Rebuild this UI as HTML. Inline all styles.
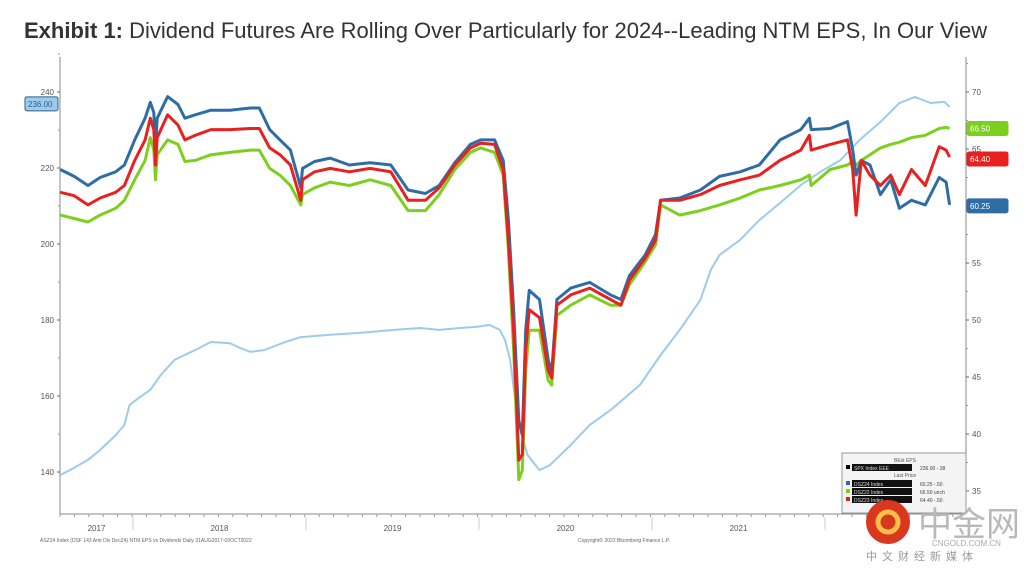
<!DOCTYPE html>
<html><head><meta charset="utf-8"><style>
body{margin:0;background:#fff;width:1024px;height:575px;overflow:hidden;font-family:"Liberation Sans","Noto Sans CJK SC",sans-serif}
</style></head><body>
<svg width="1024" height="575" xmlns="http://www.w3.org/2000/svg">
<text x="24" y="38" font-size="22" fill="#333"><tspan font-weight="bold">Exhibit 1:</tspan> Dividend Futures Are Rolling Over Particularly for 2024--Leading NTM EPS, In Our View</text>
<g id="axes"></g>
<g id="lines"></g>
<g id="labels"></g>
<g>
<rect x="842" y="453" width="124" height="60" fill="#f4f4f4" stroke="#999"/>
<text x="905" y="462" font-size="5" fill="#555" text-anchor="middle">BEst EPS</text>
<rect x="846" y="465" width="4" height="4" fill="#000"/><rect x="852" y="464" width="60" height="7" fill="#111"/><text x="854" y="470" font-size="5" fill="#ddd">SPX Index EEE</text><text x="920" y="470" font-size="5" fill="#444">236.00  -.38</text>
<text x="905" y="477" font-size="5" fill="#555" text-anchor="middle">Last Price</text>
<rect x="846" y="481" width="4" height="4" fill="#2e6da4"/><rect x="852" y="480" width="60" height="7" fill="#111"/><text x="854" y="486" font-size="5" fill="#ddd">DSZ24 Index</text><text x="920" y="486" font-size="5" fill="#444">60.25  -.50</text>
<rect x="846" y="489" width="4" height="4" fill="#7dcf1e"/><rect x="852" y="488" width="60" height="7" fill="#111"/><text x="854" y="494" font-size="5" fill="#ddd">DSZ22 Index</text><text x="920" y="494" font-size="5" fill="#444">66.50  unch</text>
<rect x="846" y="497" width="4" height="4" fill="#e8201f"/><rect x="852" y="496" width="60" height="7" fill="#111"/><text x="854" y="502" font-size="5" fill="#ddd">DSZ23 Index</text><text x="920" y="502" font-size="5" fill="#444">64.40  -.50</text>
</g>
<text x="40" y="542" font-size="5" fill="#666">ASZ24 Index (DSF 143 Amt Div  DecZ4) NTM EPS vs Dividends  Daily 31AUG2017-03OCT2022</text>
<text x="578" y="542" font-size="5" fill="#666">Copyright© 2022 Bloomberg Finance L.P.</text>
<g>
<circle cx="888" cy="522" r="22" fill="#d9381e"/><circle cx="888" cy="522" r="10" fill="none" stroke="#f7c04a" stroke-width="5"/>
<text x="918" y="536" font-size="34" fill="#b9b9b9" font-family="'Noto Sans CJK SC',sans-serif">中金网</text>
<text x="932" y="546" font-size="8" fill="#aaa">CNGOLD.COM.CN</text>
<text x="866" y="560" font-size="11" fill="#999" letter-spacing="5" font-family="'Noto Sans CJK SC',sans-serif">中文财经新媒体</text>
</g>
</svg>
<script>
const dates=[2017.58,2017.66,2017.74,2017.81,2017.90,2017.95,2018.01,2018.07,2018.10,2018.12,2018.13,2018.14,2018.20,2018.26,2018.30,2018.36,2018.45,2018.56,2018.68,2018.73,2018.79,2018.85,2018.91,2018.97,2018.98,2019.05,2019.14,2019.25,2019.37,2019.49,2019.59,2019.69,2019.77,2019.86,2019.95,2020.01,2020.09,2020.14,2020.17,2020.20,2020.23,2020.25,2020.27,2020.29,2020.35,2020.40,2020.42,2020.45,2020.53,2020.64,2020.76,2020.82,2020.87,2020.96,2021.02,2021.05,2021.16,2021.28,2021.39,2021.51,2021.62,2021.74,2021.86,2021.91,2021.92,2022.03,2022.13,2022.16,2022.18,2022.21,2022.26,2022.32,2022.38,2022.43,2022.50,2022.58,2022.66,2022.70,2022.72];
const dsz24=[63.2,62.6,61.8,62.5,63.0,63.6,65.8,67.7,69.1,68.2,65.1,67.7,69.6,68.9,67.7,68.0,68.4,68.4,68.6,68.6,66.7,65.8,64.9,61.6,63.3,63.9,64.2,63.6,63.8,63.6,61.4,61.1,61.8,63.8,65.4,65.8,65.8,64.0,58.8,50.9,41.2,39.9,49.1,52.6,51.8,46.5,45.4,51.8,52.8,53.3,52.2,51.8,53.9,55.7,57.5,60.5,60.7,61.4,62.6,63.0,63.6,65.8,66.7,67.7,66.7,66.8,67.4,64.9,62.7,64.0,63.6,61.0,62.3,59.8,60.5,60.1,62.5,62.1,60.1];
const dsz23=[61.2,60.9,60.1,60.7,61.2,61.8,64.0,65.8,67.7,66.7,63.6,66.0,68.0,67.1,65.8,66.2,66.7,66.7,66.8,66.8,65.1,64.5,63.6,60.5,62.3,63.0,63.3,63.0,63.3,63.0,60.5,60.5,61.6,63.6,65.1,65.5,65.4,63.2,57.0,49.1,37.7,38.2,47.4,50.9,50.2,45.6,44.9,51.3,52.2,52.8,51.8,51.3,53.5,55.4,57.0,60.5,60.5,61.0,61.8,62.3,62.7,64.0,64.9,66.2,64.9,65.4,65.8,63.2,59.2,64.0,62.7,61.8,62.7,61.0,63.2,61.8,65.2,64.9,64.3];
const dsz22=[59.2,58.9,58.6,59.2,59.8,60.5,62.3,64.0,66.0,64.9,62.3,64.5,65.8,65.4,63.9,64.0,64.5,64.7,64.9,64.9,63.3,62.7,61.8,60.1,61.0,61.6,62.1,61.8,62.3,61.8,59.6,59.6,61.0,63.2,64.7,65.1,64.7,62.7,56.1,47.4,36.0,36.8,45.6,49.1,49.1,44.7,44.3,50.4,51.3,52.2,51.3,51.3,53.1,55.1,56.6,60.1,59.2,59.6,60.1,60.7,61.4,61.8,62.3,62.7,61.8,63.2,63.6,63.9,63.6,64.0,64.5,65.1,65.4,65.6,66.0,66.2,66.8,66.9,66.8];
const epsDates=[2017.58,2017.66,2017.74,2017.81,2017.90,2017.95,2017.98,2018.04,2018.10,2018.16,2018.24,2018.36,2018.45,2018.56,2018.62,2018.68,2018.76,2018.88,2018.97,2019.14,2019.31,2019.51,2019.66,2019.77,2019.89,2019.99,2020.06,2020.12,2020.15,2020.18,2020.21,2020.24,2020.28,2020.35,2020.41,2020.53,2020.64,2020.76,2020.93,2021.05,2021.16,2021.28,2021.34,2021.39,2021.51,2021.62,2021.74,2021.86,2021.97,2022.09,2022.20,2022.32,2022.43,2022.52,2022.61,2022.69,2022.72];
const bestEps=[139.2,141.1,143.2,145.8,149.7,152.4,157.6,159.7,161.6,165.5,169.5,172.1,174.2,173.9,172.6,171.6,172.1,174.2,175.5,176.1,176.6,177.4,177.9,177.4,177.9,178.2,178.7,177.4,174.7,169.5,158.9,151.1,144.5,140.5,141.8,147.1,152.4,156.3,162.9,170.8,177.4,185.3,193.2,197.1,201.1,206.3,210.8,215.5,218.9,222.1,227.4,232.1,237.1,238.7,237.1,237.4,236.1];
const leftTicks=[140,160,180,200,220,240];
const rightTicks=[35,40,45,50,55,60,65,70];
const years=["2017","2018","2019","2020","2021"];
const yearStarts=[2017,2018,2019,2020,2021];

const NS="http://www.w3.org/2000/svg";
const X0=60,X1=966,YB=514,YT=57;
const xS=t=>133+(t-2018)*173;
const yL=v=>92+(240-v)*3.8;
const yR=v=>92+(70-v)*11.4;
function mk(tag,attrs,parent){const e=document.createElementNS(NS,tag);for(const k in attrs)e.setAttribute(k,attrs[k]);parent.appendChild(e);return e;}
const ax=document.getElementById('axes');
let e=mk('line',{x1:X0,y1:YT,x2:X0,y2:YB,stroke:'#888','stroke-width':1},ax);

e=mk('line',{x1:X1,y1:YT,x2:X1,y2:YB,stroke:'#888','stroke-width':1},ax);

e=mk('line',{x1:X0,y1:YB,x2:X1,y2:YB,stroke:'#888','stroke-width':1},ax);

for(let x=X0;x<=X1;x+=14.4){mk('line',{x1:x,y1:YB,x2:x,y2:YB+3,stroke:'#999'},ax);}
leftTicks.forEach(v=>{const y=yL(v);mk('line',{x1:X0-3,y1:y,x2:X0,y2:y,stroke:'#666'},ax);
const t=mk('text',{x:X0-6,y:y+3,'font-size':8,fill:'#555','text-anchor':'end'},ax);t.textContent=v;

mk('line',{x1:X0-2,y1:y-38,x2:X0,y2:y-38,stroke:'#999'},ax);});
rightTicks.forEach(v=>{const y=yR(v);mk('line',{x1:X1,y1:y,x2:X1+3,y2:y,stroke:'#666'},ax);
const t=mk('text',{x:X1+6,y:y+3,'font-size':8,fill:'#555'},ax);t.textContent=v;

mk('line',{x1:X1,y1:y-28.5,x2:X1+2,y2:y-28.5,stroke:'#999'},ax);});
yearStarts.forEach((yr,i)=>{const xa=Math.max(X0,xS(yr)),xb=xS(yr+1);
if(yr>2017)mk('line',{x1:xS(yr),y1:YB+3,x2:xS(yr),y2:YB+16,stroke:'#ccc'},ax);
const t=mk('text',{x:(xa+xb)/2,y:YB+17,'font-size':8,fill:'#555','text-anchor':'middle'},ax);t.textContent=years[i];
});
mk('line',{x1:xS(2022),y1:YB+3,x2:xS(2022),y2:YB+16,stroke:'#ccc'},ax);
const lg=document.getElementById('lines');
function line(ds,vs,sc,col,w,name){const d=ds.map((t,i)=>(i?'L':'M')+xS(t).toFixed(1)+' '+sc(vs[i]).toFixed(1)).join(' ');
const p=mk('path',{d:d,fill:'none',stroke:col,'stroke-width':w,'stroke-linejoin':'round'},lg);
}
line(epsDates,bestEps,yL,'#9ccbeb',2,'best-eps-line');
line(dates,dsz22,yR,'#7dcf1e',3,'dsz22-line');
line(dates,dsz24,yR,'#2e6da4',3,'dsz24-line');
line(dates,dsz23,yR,'#e8201f',3,'dsz23-line');
const lb=document.getElementById('labels');
function tag(x,y,w,val,fill,stroke,txt,name){const g=mk('g',{},lb);

mk('rect',{x:x,y:y-7,width:w,height:14,fill:fill,stroke:stroke,rx:2},g);
const t=mk('text',{x:x+3,y:y+3,'font-size':8,fill:txt},g);t.textContent=val;}
tag(967,yR(dsz22[dsz22.length-1]),41,'66.50','#7dcf1e','#7dcf1e','#fff','dsz22-value-tag');
tag(967,yR(dsz23[dsz23.length-1])+2,41,'64.40','#e8201f','#e8201f','#fff','dsz23-value-tag');
tag(967,yR(dsz24[dsz24.length-1])+1,41,'60.25','#2e6da4','#2e6da4','#fff','dsz24-value-tag');
tag(25,yL(bestEps[bestEps.length-1])-3,33,'236.00','#9ccbeb','#2e5f8a','#2e5f8a','best-eps-value-tag');
</script>
</body></html>
